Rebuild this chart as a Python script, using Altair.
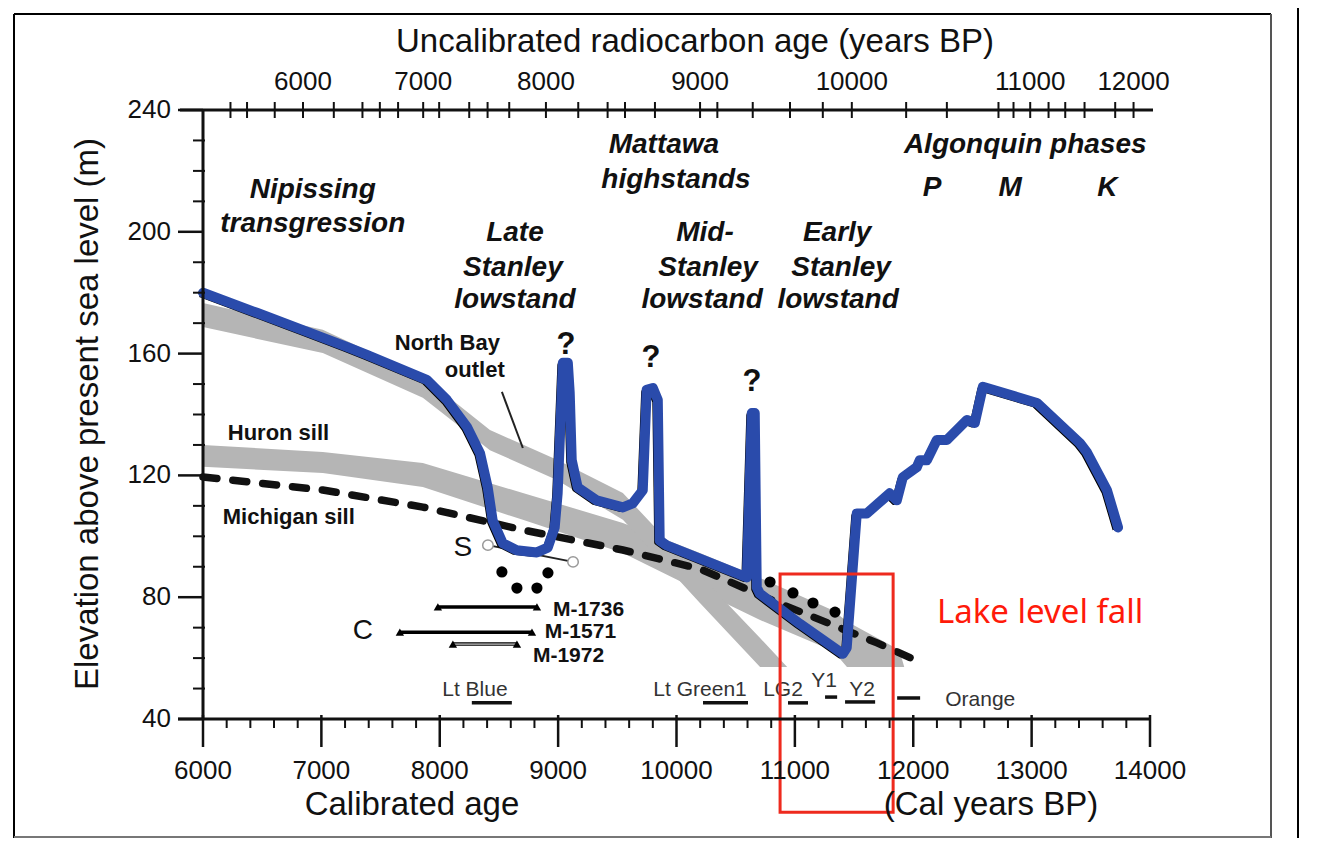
import altair as alt
import pandas as pd

W, H = 947, 609
FONT = "Liberation Sans, Arial, sans-serif"
BLUE = "#2a4bab"
GRAY = "#b5b5b5"
RED = "#ee2a1e"

# ---------------- data ----------------
curve_age = [6000, 6455, 6877, 7215, 7385, 7890, 8060, 8230, 8340, 8405, 8447, 8532, 8650, 8820,
             8912, 8971, 8996, 9013, 9030, 9040, 9082, 9098, 9115, 9165, 9326, 9547, 9630, 9715,
             9748, 9800, 9842, 9858, 9917, 10594, 10636, 10661, 10678, 10703, 11041, 11405, 11438,
             11523, 11607, 11801, 11861, 11912, 12030, 12055, 12115, 12199, 12284, 12453, 12520,
             12588, 13045, 13408, 13467, 13637, 13730]
curve_elev = [180.0, 173.4, 167.2, 162.2, 159.6, 151.4, 144.8, 135.9, 127.3, 116.1, 105.2, 97.7,
              95.4, 94.7, 96.3, 102.9, 114.1, 130.6, 147.1, 157.0, 157.0, 147.1, 125.0, 116.1,
              111.8, 109.5, 110.8, 115.1, 148.1, 148.7, 144.8, 98.6, 97.0, 86.5, 140.5, 140.5,
              83.2, 81.2, 71.3, 61.4, 63.4, 107.5, 107.5, 114.1, 111.8, 119.4, 122.7, 125.0,
              125.0, 131.6, 131.6, 138.2, 137.2, 149.1, 143.8, 130.6, 127.6, 115.1, 102.9]

# North Bay outlet band (steeper)
bandA_age = [6000, 7012, 7857, 8424, 8990, 9547, 9919, 10198, 10706, 10935]
bandA_low = [168.7, 160.2, 145.5, 128.3, 118.5, 105.4, 89.9, 78.1, 57.1, 57.1]
bandA_high = [176.6, 167.8, 152.5, 134.9, 125.1, 114.2, 98.8, 87.3, 66.6, 57.1]

# Huron sill band (shallower)
bandB_age = [6000, 7012, 7857, 8702, 9547, 10198, 10479, 10706, 11324, 11440, 11882, 11924]
bandB_low = [122.8, 120.8, 116.2, 105.4, 94.5, 82.0, 76.8, 72.5, 62.3, 57.1, 57.1, 57.1]
bandB_high = [130.0, 127.7, 124.1, 114.2, 104.4, 94.5, 90.0, 86.3, 75.6, 72.0, 62.7, 57.1]

# Michigan sill (dashed)
sill_age = [6000, 7012, 7857, 8702, 9547, 10198, 10900, 11694, 12057]
sill_elev = [119.5, 115.2, 109.6, 102.1, 95.5, 89.3, 77.5, 65.0, 58.7]

# dated points
dot_age = [8525, 8914, 8652, 8821, 10790, 10984, 11153, 11339]
dot_elev = [88.3, 88.0, 83.0, 83.0, 85.0, 81.4, 78.1, 75.1]

# C date ranges
c_label = ["M-1736", "M-1571", "M-1972"]
c_start = [7984, 7663, 8111]
c_end = [8821, 8779, 8652]
c_elev = [76.8, 68.5, 64.6]
c_text_age = [8956, 8888, 8787]
c_text_elev = [75.8, 68.6, 60.6]

# S range
s_age = [8407, 9126]
s_elev = [97.1, 91.6]

# North Bay pointer
ptr_age = [8525, 8702]
ptr_elev = [147.4, 129.0]

# core colour-zone underlines
ul_start = [8271, 10224, 10942, 11255, 11424, 11864]
ul_end = [8609, 10604, 11111, 11357, 11678, 12058]
ul_elev = [45.3, 45.3, 45.3, 47.2, 45.6, 46.9]

zone_text = ["Lt Blue", "Lt Green1", "LG2", "Y1", "Y2", "Orange"]
zone_age = [8297, 10199, 10900, 11247, 11568, 12566]
zone_elev = [49.5, 49.5, 49.5, 52.5, 49.5, 46.2]

phase_text = ["Nipissing", "transgression", "Late", "Stanley", "lowstand", "Mattawa", "highstands",
              "Mid-", "Stanley", "lowstand", "Early", "Stanley", "lowstand", "Algonquin phases",
              "P", "M", "K"]
phase_age = [6927, 6927, 8635, 8618, 8635, 9894, 9996, 10241, 10267, 10216, 11357, 11390, 11365,
             12946, 12160, 12819, 13639]
phase_elev = [213.7, 202.6, 199.6, 188.1, 177.6, 228.5, 217.0, 199.6, 188.1, 177.6, 199.6, 188.1,
              177.6, 228.5, 214.4, 214.4, 214.4]

q_age = [9066, 9784, 10638]
q_elev = [162.8, 158.6, 150.7]

bold_text = ["North Bay", "outlet", "Huron sill", "Michigan sill"]
bold_age = [7620, 8043, 6209, 6167]
bold_elev = [163.5, 154.6, 133.9, 106.3]

letter_text = ["S", "C"]
letter_age = [8195, 7350]
letter_elev = [96.2, 68.9]

box_age = [10875, 11830]
box_elev = [87.6, 9.4]

note_text = ["Lake level fall"]
note_age = [13072]
note_elev = [74.8]

# axes
x_major = [6000, 7000, 8000, 9000, 10000, 11000, 12000, 13000, 14000]
x_minor = [v for v in range(6200, 14000, 200) if v % 1000 != 0]
y_major = [40, 80, 120, 160, 200, 240]
y_minor = [v for v in range(50, 240, 10) if v % 40 != 0]
top_ticks = [6232, 6372, 6606, 6845, 7105, 7347, 7494, 7648, 7860, 7995, 8249, 8404, 8587, 8897,
             9170, 9418, 9565, 9818, 10199, 10345, 10644, 10959, 11236, 11481, 11940, 12284,
             12720, 12847, 12988, 13143, 13284, 13447, 13706, 13861]
top_label = ["6000", "7000", "8000", "9000", "10000", "11000", "12000"]
top_label_pos = [6845, 7860, 8897, 10199, 11481, 12988, 13861]

# ---------------- chart ----------------
xs = alt.Scale(domain=[6000, 14000], nice=False, zero=False)
ys = alt.Scale(domain=[40, 240], nice=False, zero=False)


def X(f):
    return alt.X(f, type="quantitative", scale=xs, axis=None)


def Y(f):
    return alt.Y(f, type="quantitative", scale=ys, axis=None)


curve = pd.DataFrame({"age": curve_age, "elev": curve_elev, "i": list(range(len(curve_age)))})
bandA = pd.DataFrame({"age": bandA_age, "lo": bandA_low, "hi": bandA_high})
bandB = pd.DataFrame({"age": bandB_age, "lo": bandB_low, "hi": bandB_high})
sill = pd.DataFrame({"age": sill_age, "elev": sill_elev})
dots = pd.DataFrame({"age": dot_age, "elev": dot_elev})
cdf = pd.DataFrame({"lab": c_label, "a0": c_start, "a1": c_end, "elev": c_elev,
                    "ta": c_text_age, "te": c_text_elev})
cends = pd.DataFrame({"age": c_start + c_end, "elev": c_elev + c_elev})
sdf = pd.DataFrame({"age": s_age, "elev": s_elev})
ptr = pd.DataFrame({"a0": [ptr_age[0]], "a1": [ptr_age[1]], "e0": [ptr_elev[0]], "e1": [ptr_elev[1]]})
ul = pd.DataFrame({"a0": ul_start, "a1": ul_end, "elev": ul_elev})
zones = pd.DataFrame({"t": zone_text, "age": zone_age, "elev": zone_elev})
phases = pd.DataFrame({"t": phase_text, "age": phase_age, "elev": phase_elev})
qs = pd.DataFrame({"t": ["?"] * 3, "age": q_age, "elev": q_elev})
bolds = pd.DataFrame({"t": bold_text, "age": bold_age, "elev": bold_elev})
letters = pd.DataFrame({"t": letter_text, "age": letter_age, "elev": letter_elev})
box = pd.DataFrame({"a0": [box_age[0]], "a1": [box_age[1]], "e0": [box_elev[0]], "e1": [box_elev[1]]})
note = pd.DataFrame({"t": note_text, "age": note_age, "elev": note_elev})

layers = []

# frame of the figure
frame = pd.DataFrame({"k": [0]})
layers.append(alt.Chart(frame).mark_rule(color="black", strokeWidth=2).encode(
    x=alt.value(-189), x2=alt.value(1068), y=alt.value(-96)))
layers.append(alt.Chart(frame).mark_rule(color="black", strokeWidth=2).encode(
    x=alt.value(-189), y=alt.value(-96), y2=alt.value(728)))
layers.append(alt.Chart(frame).mark_rule(color="#555", strokeWidth=2).encode(
    x=alt.value(1068), y=alt.value(-96), y2=alt.value(728)))
layers.append(alt.Chart(frame).mark_rule(color="#777", strokeWidth=2).encode(
    x=alt.value(-189), x2=alt.value(1068), y=alt.value(727)))
layers.append(alt.Chart(frame).mark_rule(color="black", strokeWidth=2).encode(
    x=alt.value(1095), y=alt.value(-110), y2=alt.value(728)))

# bands
layers.append(alt.Chart(bandB).mark_area(color=GRAY).encode(x=X("age"), y=Y("lo"), y2="hi"))
layers.append(alt.Chart(bandA).mark_area(color=GRAY).encode(x=X("age"), y=Y("lo"), y2="hi"))

# dashed Michigan sill
layers.append(alt.Chart(sill).mark_line(color="#111", strokeWidth=7.5, strokeDash=[14, 16],
                                        strokeCap="round").encode(x=X("age"), y=Y("elev")))

# pointer and S range
layers.append(alt.Chart(ptr).mark_rule(color="#222", strokeWidth=2).encode(
    x=X("a0"), x2="a1", y=Y("e0"), y2="e1"))
layers.append(alt.Chart(sdf).mark_line(color="#222", strokeWidth=2).encode(x=X("age"), y=Y("elev")))
layers.append(alt.Chart(sdf).mark_point(shape="circle", filled=True, fill="white", stroke="#999",
                                        strokeWidth=1.5, size=110, opacity=1).encode(
    x=X("age"), y=Y("elev")))

# dots
layers.append(alt.Chart(dots).mark_circle(color="black", size=125, opacity=1).encode(
    x=X("age"), y=Y("elev")))

# lake level curve: original black + blue overlay
layers.append(alt.Chart(curve).mark_line(color="black", strokeWidth=5, xOffset=-3, yOffset=2,
                                         strokeJoin="round").encode(
    x=X("age"), y=Y("elev"), order="i:Q"))
layers.append(alt.Chart(curve).mark_line(color=BLUE, strokeWidth=10, strokeJoin="round",
                                         strokeCap="round").encode(
    x=X("age"), y=Y("elev"), order="i:Q"))

# C date bars
layers.append(alt.Chart(cdf).mark_rule(color="black", strokeWidth=3.5).encode(
    x=X("a0"), x2="a1", y=Y("elev")))
layers.append(alt.Chart(cdf[cdf.lab == "M-1972"]).mark_rule(color="white", strokeWidth=1).encode(
    x=X("a0"), x2="a1", y=Y("elev")))
layers.append(alt.Chart(cends).mark_point(shape="triangle-up", filled=True, color="black",
                                          size=70, opacity=1).encode(x=X("age"), y=Y("elev")))
layers.append(alt.Chart(cdf).mark_text(font=FONT, fontSize=21, fontWeight="bold", align="left",
                                       baseline="middle", color="#111").encode(
    x=X("ta"), y=Y("te"), text="lab:N"))

# underlines
layers.append(alt.Chart(ul).mark_rule(color="#111", strokeWidth=3.5).encode(
    x=X("a0"), x2="a1", y=Y("elev")))

# text
layers.append(alt.Chart(zones).mark_text(font=FONT, fontSize=21, baseline="middle",
                                         color="#333").encode(x=X("age"), y=Y("elev"), text="t:N"))
layers.append(alt.Chart(phases).mark_text(font=FONT, fontSize=28, fontWeight="bold",
                                          fontStyle="italic", baseline="middle",
                                          color="#111").encode(x=X("age"), y=Y("elev"), text="t:N"))
layers.append(alt.Chart(qs).mark_text(font=FONT, fontSize=31, fontWeight="bold", baseline="middle",
                                      color="#111").encode(x=X("age"), y=Y("elev"), text="t:N"))
layers.append(alt.Chart(bolds).mark_text(font=FONT, fontSize=22, fontWeight="bold", align="left",
                                         baseline="middle", color="#111").encode(
    x=X("age"), y=Y("elev"), text="t:N"))
layers.append(alt.Chart(letters).mark_text(font=FONT, fontSize=28, baseline="middle",
                                           color="#111").encode(x=X("age"), y=Y("elev"), text="t:N"))

# red box and note
layers.append(alt.Chart(box).mark_rect(fill=None, stroke=RED, strokeWidth=3).encode(
    x=X("a0"), x2="a1", y=Y("e0"), y2="e1"))
layers.append(alt.Chart(note).mark_text(font="Noto Sans, DejaVu Sans, sans-serif", fontSize=33,
                                        baseline="middle", color="#ff1a0a").encode(
    x=X("age"), y=Y("elev"), text="t:N"))

# ---- axes drawn by hand ----
AX = "#111"
layers.append(alt.Chart(frame).mark_rule(color=AX, strokeWidth=3).encode(
    x=alt.value(-25), x2=alt.value(W + 1), y=alt.value(H)))
layers.append(alt.Chart(frame).mark_rule(color=AX, strokeWidth=3).encode(
    x=alt.value(-23), x2=alt.value(W + 3), y=alt.value(0)))
layers.append(alt.Chart(frame).mark_rule(color=AX, strokeWidth=3).encode(
    x=alt.value(0), y=alt.value(0), y2=alt.value(H)))

xmaj = pd.DataFrame({"v": x_major, "t": [str(v) for v in x_major]})
xmin = pd.DataFrame({"v": x_minor})
ymaj = pd.DataFrame({"v": y_major, "t": [str(v) for v in y_major]})
ymin = pd.DataFrame({"v": y_minor})
ttk = pd.DataFrame({"v": top_ticks})
tlab = pd.DataFrame({"v": top_label_pos, "t": top_label})

layers.append(alt.Chart(xmaj).mark_rule(color=AX, strokeWidth=2.5).encode(
    x=X("v"), y=alt.value(H - 4), y2=alt.value(H + 28)))
layers.append(alt.Chart(xmin).mark_rule(color=AX, strokeWidth=2).encode(
    x=X("v"), y=alt.value(H), y2=alt.value(H + 9)))
layers.append(alt.Chart(xmaj).mark_text(font=FONT, fontSize=26, baseline="middle",
                                        color="#111").encode(
    x=X("v"), y=alt.value(H + 52), text="t:N"))
layers.append(alt.Chart(ymaj).mark_rule(color=AX, strokeWidth=2.5).encode(
    y=Y("v"), x=alt.value(-25), x2=alt.value(0)))
layers.append(alt.Chart(ymin).mark_rule(color=AX, strokeWidth=2).encode(
    y=Y("v"), x=alt.value(-10), x2=alt.value(2)))
layers.append(alt.Chart(ymaj).mark_text(font=FONT, fontSize=26, align="right", baseline="middle",
                                        color="#111").encode(
    y=Y("v"), x=alt.value(-32), text="t:N"))
layers.append(alt.Chart(ttk).mark_rule(color=AX, strokeWidth=2).encode(
    x=X("v"), y=alt.value(-8), y2=alt.value(8)))
layers.append(alt.Chart(tlab).mark_text(font=FONT, fontSize=26, baseline="middle",
                                        color="#111").encode(
    x=X("v"), y=alt.value(-28), text="t:N"))

# axis titles
layers.append(alt.Chart(frame).mark_text(font=FONT, fontSize=33, baseline="middle",
                                         color="#111").encode(
    x=alt.value(492), y=alt.value(-68), text=alt.value("Uncalibrated radiocarbon age (years BP)")))
layers.append(alt.Chart(frame).mark_text(font=FONT, fontSize=33, baseline="middle", angle=270,
                                         color="#111").encode(
    x=alt.value(-115), y=alt.value(304), text=alt.value("Elevation above present sea level (m)")))
layers.append(alt.Chart(frame).mark_text(font=FONT, fontSize=33, baseline="middle",
                                         color="#111").encode(
    x=alt.value(209), y=alt.value(695), text=alt.value("Calibrated age")))
layers.append(alt.Chart(frame).mark_text(font=FONT, fontSize=33, baseline="middle",
                                         color="#111").encode(
    x=alt.value(788), y=alt.value(695), text=alt.value("(Cal years BP)")))

chart = alt.layer(*layers).properties(
    width=W, height=H,
    autosize=alt.AutoSizeParams(type="none"),
    padding={"left": 195, "top": 102, "right": 166, "bottom": 119},
    background="white",
).configure_view(stroke=None)

chart.save("out.html", embed_options={"renderer": "svg", "actions": False})
